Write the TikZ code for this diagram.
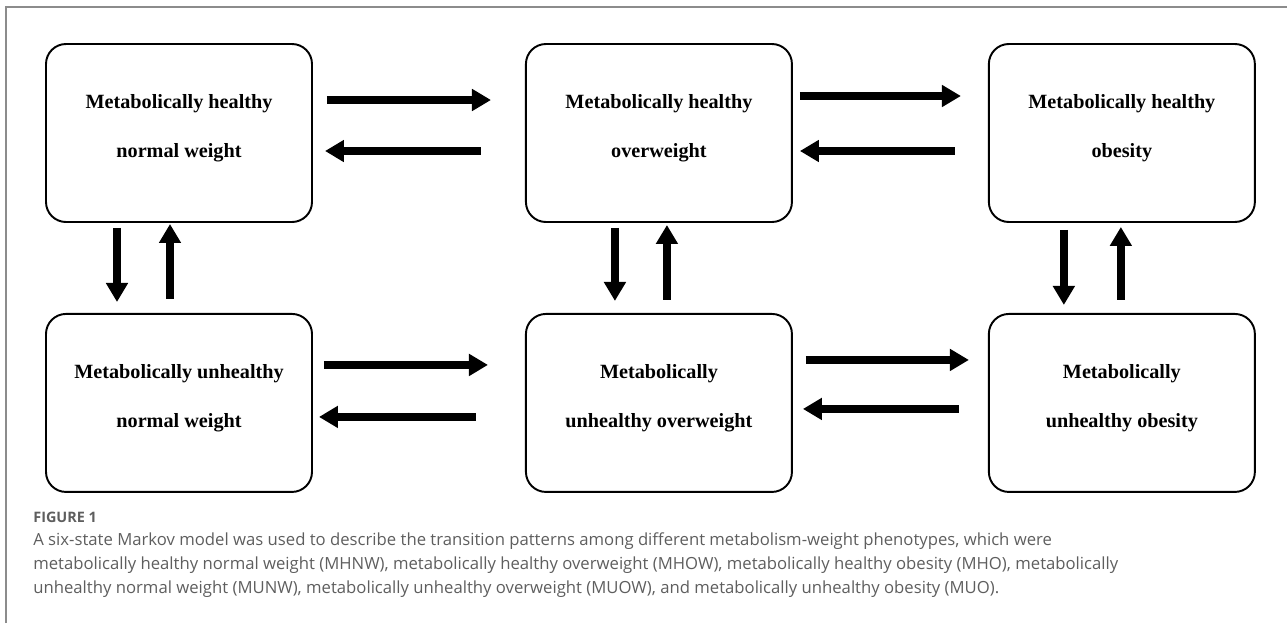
\documentclass[tikz,border=0pt]{standalone}
\usepackage{fontspec}
\setmainfont{Liberation Serif}
\newfontfamily\capfont{Open Sans}
\usepackage{tikz}
\usetikzlibrary{arrows.meta}
\usetikzlibrary{positioning}
\usepackage{xcolor}
\definecolor{capgray}{HTML}{5E5E5E}
\definecolor{framegray}{HTML}{8C8C8C}

\tikzset{
  pheno/.style={draw, line width=1.1pt, rounded corners=0.4cm, minimum width=5.32cm,
    minimum height=3.56cm, align=center, text depth=8pt,
    font=\bfseries\fontsize{11.5}{27.8}\selectfont},
  trans/.style={line width=4.5pt, -{Triangle[length=0.38cm,width=0.42cm]}}
}

\begin{document}
\begin{tikzpicture}
    \useasboundingbox (0,0) rectangle (25.74,-12.46);
    \draw[framegray, line width=0.6pt] (0.12,-12.46) -- (0.12,-0.14) -- (25.74,-0.14);

    % healthy phenotypes
    \node[pheno] (mhnw) at (3.58,-2.66) {Metabolically healthy\\normal weight};
    \node[pheno] (mhow) [right=4.24cm of mhnw] {Metabolically healthy\\overweight};
    \node[pheno] (mho) [right=3.9cm of mhow] {Metabolically healthy\\obesity};

    % unhealthy phenotypes
    \node[pheno] (munw) [below=1.8cm of mhnw] {Metabolically unhealthy\\normal weight};
    \node[pheno] (muow) [below=1.8cm of mhow] {Metabolically\\unhealthy overweight};
    \node[pheno] (muo) [below=1.8cm of mho] {Metabolically\\unhealthy obesity};

    % transitions along the rows
    \draw[trans] ([xshift=0.28cm,yshift=0.66cm]mhnw.east) -- ([xshift=-0.68cm,yshift=0.66cm]mhow.west);
    \draw[trans] ([xshift=-0.88cm,yshift=-0.36cm]mhow.west) -- ([xshift=0.24cm,yshift=-0.36cm]mhnw.east);
    \draw[trans] ([xshift=0.14cm,yshift=0.74cm]mhow.east) -- ([xshift=-0.54cm,yshift=0.74cm]mho.west);
    \draw[trans] ([xshift=-0.66cm,yshift=-0.36cm]mho.west) -- ([xshift=0.14cm,yshift=-0.36cm]mhow.east);
    \draw[trans] ([xshift=0.22cm,yshift=0.76cm]munw.east) -- ([xshift=-0.74cm,yshift=0.76cm]muow.west);
    \draw[trans] ([xshift=-0.98cm,yshift=-0.28cm]muow.west) -- ([xshift=0.12cm,yshift=-0.28cm]munw.east);
    \draw[trans] ([xshift=0.26cm,yshift=0.86cm]muow.east) -- ([xshift=-0.38cm,yshift=0.86cm]muo.west);
    \draw[trans] ([xshift=-0.58cm,yshift=-0.12cm]muo.west) -- ([xshift=0.20cm,yshift=-0.12cm]muow.east);

    % transitions between the rows
    \draw[trans] ([xshift=-1.24cm,yshift=-0.1cm]mhnw.south) -- ([xshift=-1.24cm,yshift=0.22cm]munw.north);
    \draw[trans] ([xshift=-0.18cm,yshift=0.28cm]munw.north) -- ([xshift=-0.18cm,yshift=-0.02cm]mhnw.south);
    \draw[trans] ([xshift=-0.88cm,yshift=-0.1cm]mhow.south) -- ([xshift=-0.88cm,yshift=0.24cm]muow.north);
    \draw[trans] ([xshift=0.16cm,yshift=0.26cm]muow.north) -- ([xshift=0.16cm,yshift=-0.04cm]mhow.south);
    \draw[trans] ([xshift=-1.16cm,yshift=-0.14cm]mho.south) -- ([xshift=-1.16cm,yshift=0.16cm]muo.north);
    \draw[trans] ([xshift=-0.02cm,yshift=0.26cm]muo.north) -- ([xshift=-0.02cm,yshift=-0.08cm]mho.south);

    % caption
    \node[anchor=base west, inner sep=0, text=capgray, font=\capfont\bfseries\fontsize{8.2}{9}\selectfont] (figlab) at (0.66,-10.44) {FIGURE 1};
    \node[anchor=north west, inner sep=0, align=left, text=capgray, font=\capfont\fontsize{9.5}{13.66}\selectfont] (caption) at (0.66,-10.64)
      {A six-state Markov model was used to describe the transition patterns among different metabolism-weight phenotypes, which were\\
       metabolically healthy normal weight (MHNW), metabolically healthy overweight (MHOW), metabolically healthy obesity (MHO), metabolically\\
       unhealthy normal weight (MUNW), metabolically unhealthy overweight (MUOW), and metabolically unhealthy obesity (MUO).};
\end{tikzpicture}
\end{document}
